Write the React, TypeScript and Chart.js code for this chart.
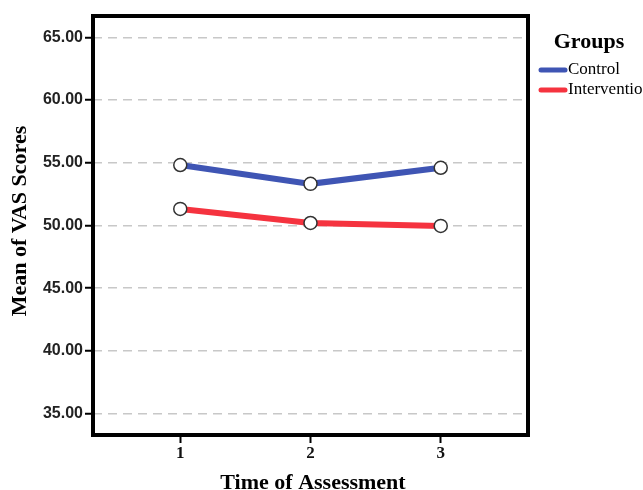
import React, { useEffect, useRef } from "react";
import { Chart, registerables } from "chart.js";

Chart.register(...registerables);

const timePoints = [1, 2, 3];
const controlScores = [54.82, 53.32, 54.6];
const interventionScores = [51.32, 50.2, 49.97];
const yTickValues = [35, 40, 45, 50, 55, 60, 65];
const seriesNames = ["Control", "Interventio"];
const legendTitle = "Groups";
const yTitle = "Mean of VAS Scores";
const xTitle = "Time of Assessment";

const BLUE = "#3f55b4";
const RED = "#f5333f";

const overlayPlugin = {
  id: "overlay",
  afterDraw(chart: any) {
    const { ctx, chartArea } = chart;
    const { left, top, right, bottom } = chartArea;
    ctx.save();
    // box
    ctx.strokeStyle = "#000";
    ctx.lineWidth = 4;
    ctx.strokeRect(left, top, right - left, bottom - top);
    // y title
    ctx.fillStyle = "#000";
    ctx.font = "bold 22px 'Liberation Serif'";
    ctx.textAlign = "center";
    ctx.textBaseline = "middle";
    ctx.save();
    ctx.translate(20, 221);
    ctx.rotate(-Math.PI / 2);
    ctx.fillText(yTitle, 0, 0);
    ctx.restore();
    // x title
    ctx.textBaseline = "alphabetic";
    ctx.fillText(xTitle, 313, 489);
    // legend
    ctx.fillText(legendTitle, 589, 48);
    ctx.font = "17px 'Liberation Serif'";
    ctx.textAlign = "left";
    ctx.textBaseline = "middle";
    const colors = [BLUE, RED];
    const ys = [70, 90];
    seriesNames.forEach((n, i) => {
      ctx.strokeStyle = colors[i];
      ctx.lineWidth = 5;
      ctx.lineCap = "round";
      ctx.beginPath();
      ctx.moveTo(541, ys[i]);
      ctx.lineTo(565, ys[i]);
      ctx.stroke();
      ctx.fillStyle = "#000";
      ctx.fillText(n, 568, ys[i]);
    });
    ctx.restore();
  },
};

export default function App() {
  const ref = useRef<HTMLCanvasElement>(null);
  useEffect(() => {
    if (!ref.current) return;
    const pointStyle = {
      pointRadius: 6.5,
      pointBackgroundColor: "#fff",
      pointBorderColor: "#333",
      pointBorderWidth: 1.5,
      borderWidth: 6,
      tension: 0,
    };
    const chart = new Chart(ref.current, {
      type: "line",
      data: {
        datasets: [
          {
            label: seriesNames[0],
            data: timePoints.map((t, i) => ({ x: t, y: controlScores[i] })),
            borderColor: BLUE,
            ...pointStyle,
          },
          {
            label: seriesNames[1],
            data: timePoints.map((t, i) => ({ x: t, y: interventionScores[i] })),
            borderColor: RED,
            ...pointStyle,
          },
        ],
      },
      options: {
        animation: false,
        responsive: false,
        layout: { padding: { left: 0, top: 16, right: 115, bottom: 0 } },
        plugins: { legend: { display: false }, tooltip: { enabled: false } },
        scales: {
          x: {
            type: "linear",
            min: 0.33,
            max: 3.67,
            afterBuildTicks: (s: any) => {
              s.ticks = timePoints.map((v) => ({ value: v }));
            },
            afterFit: (s: any) => {
              s.height = 55;
            },
            grid: {
              drawOnChartArea: false,
              drawTicks: true,
              tickLength: 8,
              tickColor: "#000",
              tickWidth: 2,
            },
            border: { display: false },
            ticks: {
              padding: 0,
              color: "#111",
              font: { family: "'Liberation Serif'", size: 17, weight: "bold" },
              callback: (v: any) => String(v),
            },
          },
          y: {
            type: "linear",
            min: 33.3,
            max: 66.7,
            afterBuildTicks: (s: any) => {
              s.ticks = yTickValues.map((v) => ({ value: v }));
            },
            afterFit: (s: any) => {
              s.width = 93;
            },
            grid: {
              color: "#c8c8c8",
              lineWidth: 1.5,
              drawTicks: true,
              tickLength: 8,
              tickColor: "#000",
              tickWidth: 2,
              tickBorderDash: [],
            },
            border: { display: false, dash: [9, 6] },
            ticks: {
              padding: 2,
              color: "#222",
              font: { family: "'Liberation Sans'", size: 16, weight: "bold" },
              callback: (v: any) => Number(v).toFixed(2),
            },
          },
        },
      },
      plugins: [overlayPlugin],
    } as any);
    return () => chart.destroy();
  }, []);
  return (
    <div style={{ position: "fixed", left: 0, top: 0, width: 643, height: 490, background: "#fff" }}>
      <canvas ref={ref} width={643} height={490} />
    </div>
  );
}
